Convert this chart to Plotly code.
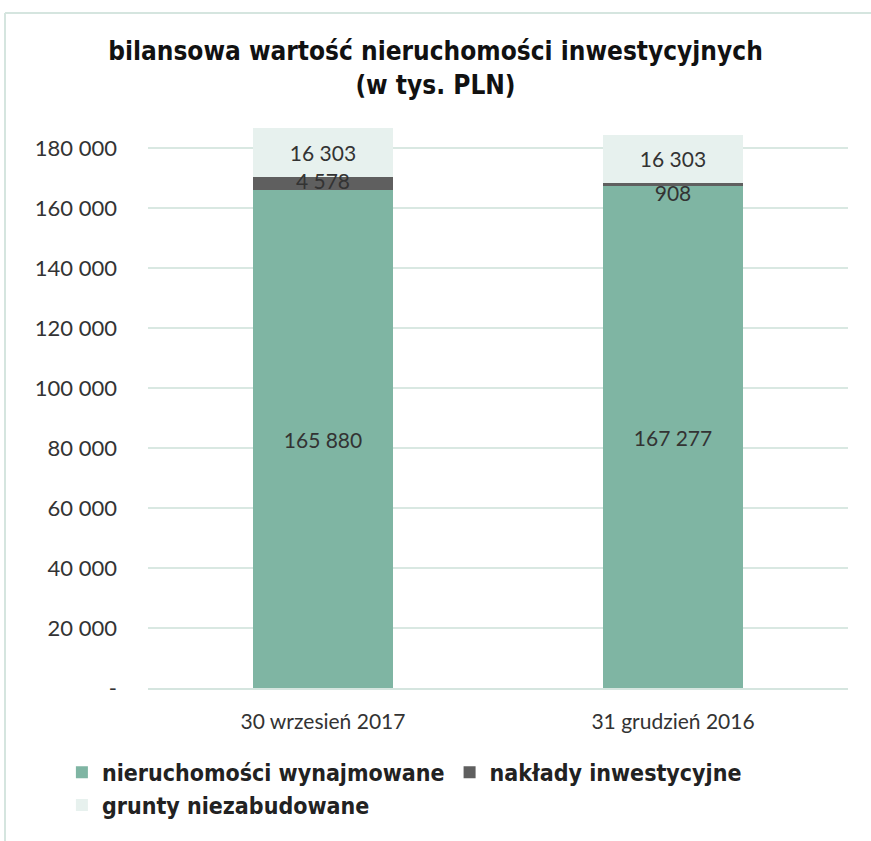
import plotly.graph_objects as go

categories = ["30 wrzesień 2017", "31 grudzień 2016"]
wynajmowane = [165880, 167277]
naklady = [4578, 908]
grunty = [16303, 16303]
series_names = ["nieruchomości wynajmowane", "nakłady inwestycyjne", "grunty niezabudowane"]
tick_vals = [0, 20000, 40000, 60000, 80000, 100000, 120000, 140000, 160000, 180000]
tick_text = ["-", "20 000", "40 000", "60 000", "80 000", "100 000", "120 000", "140 000", "160 000", "180 000"]

colors = ["#7FB5A3", "#5F5F5F", "#E7F1EE"]

def fmt(v):
    return f"{v:,}".replace(",", " ")

BASE = "Lato, Open Sans, sans-serif"
NARROW = "DejaVu Sans Condensed, Liberation Sans Narrow, DejaVu Sans, sans-serif"
LABEL_FONT = dict(family=BASE, size=21, color="#333333")

fig = go.Figure()
for name, vals, col, show_text in zip(series_names, [wynajmowane, naklady, grunty], colors, [True, False, True]):
    fig.add_trace(go.Bar(
        name=name, x=categories, y=vals, marker_color=col, marker_line_width=0,
        text=[fmt(v) for v in vals] if show_text else None,
        textposition="inside", insidetextanchor="middle",
        constraintext="none", textangle=0,
        textfont=LABEL_FONT, hoverinfo="skip",
    ))

# labels of the thin middle segment, drawn above all bars
mid_y = [a + b / 2 for a, b in zip(wynajmowane, naklady)]
fig.add_trace(go.Scatter(
    x=categories, y=mid_y, mode="text", text=[fmt(v) for v in naklady],
    textposition=["middle center", "bottom center"], textfont=LABEL_FONT,
    showlegend=False, hoverinfo="skip",
))

fig.update_layout(
    barmode="stack", bargap=0.6,
    width=871, height=841,
    margin=dict(l=148, r=23, t=118, b=153),
    paper_bgcolor="white", plot_bgcolor="white",
    title=dict(text="<b>bilansowa wartość nieruchomości inwestycyjnych<br>(w tys. PLN)</b>",
               x=0.5, xanchor="center", y=0.929, yanchor="top",
               font=dict(family=NARROW, size=26, color="#111111")),
    showlegend=True,
    legend=dict(orientation="h", x=-0.123, xanchor="left", y=-0.11, yanchor="top",
                font=dict(family=NARROW, size=23, color="#222222", weight="bold"),
                traceorder="normal", itemwidth=30, tracegroupgap=0),
    font=dict(family=BASE, color="#333333"),
)
fig.update_xaxes(showgrid=False, showline=True, linecolor="#D5E5DF", linewidth=2,
                 tickfont=dict(family=BASE, size=21, color="#333333"), ticks="", ticklabelstandoff=14)
fig.update_yaxes(range=[0, 190000], tickvals=tick_vals, ticktext=tick_text,
                 showgrid=True, gridcolor="#D9E8E2", gridwidth=2, zeroline=False, showline=False,
                 tickfont=dict(family=BASE, size=22, color="#333333"), ticks="", ticklabelstandoff=30)

# chart area border (top and left)
bx = (5 - 148) / 700
by = (688 - 13) / 570
fig.add_shape(type="line", xref="paper", yref="paper", x0=bx, x1=1.05, y0=by, y1=by,
              line=dict(color="#D5E5DF", width=2))
fig.add_shape(type="line", xref="paper", yref="paper", x0=bx, x1=bx, y0=by, y1=-0.3,
              line=dict(color="#D5E5DF", width=2))

fig.write_html("out.html", config={"displayModeBar": False},
               post_script="document.body.style.margin='0';")
